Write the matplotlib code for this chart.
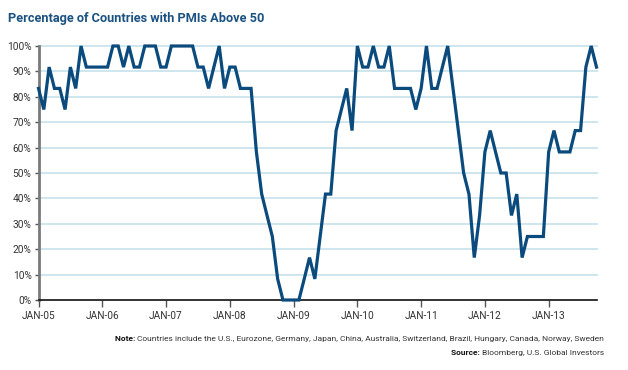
import matplotlib
matplotlib.use("Agg")
import matplotlib.pyplot as plt

# monthly share of the 12 countries with PMI above 50, Jan 2005 - Oct 2013
pct_2005 = [83.3, 75.0, 91.7, 83.3, 83.3, 75.0, 91.7, 83.3, 100, 91.7, 91.7, 91.7]
pct_2006 = [91.7, 91.7, 100, 100, 91.7, 100, 91.7, 91.7, 100, 100, 100, 91.7]
pct_2007 = [91.7, 100, 100, 100, 100, 100, 91.7, 91.7, 83.3, 91.7, 100, 83.3]
pct_2008 = [91.7, 91.7, 83.3, 83.3, 83.3, 58.3, 41.7, 33.3, 25.0, 8.3, 0, 0]
pct_2009 = [0, 0, 8.3, 16.7, 8.3, 25.0, 41.7, 41.7, 66.7, 75.0, 83.3, 66.7]
pct_2010 = [100, 91.7, 91.7, 100, 91.7, 91.7, 100, 83.3, 83.3, 83.3, 83.3, 75.0]
pct_2011 = [83.3, 100, 83.3, 83.3, 91.7, 100, 83.3, 66.7, 50.0, 41.7, 16.7, 33.3]
pct_2012 = [58.3, 66.7, 58.3, 50.0, 50.0, 33.3, 41.7, 16.7, 25.0, 25.0, 25.0, 25.0]
pct_2013 = [58.3, 66.7, 58.3, 58.3, 58.3, 66.7, 66.7, 91.7, 100, 91.7]

values = (pct_2005 + pct_2006 + pct_2007 + pct_2008 + pct_2009 +
          pct_2010 + pct_2011 + pct_2012 + pct_2013)
months = list(range(len(values)))

year_labels = ["JAN-05", "JAN-06", "JAN-07", "JAN-08", "JAN-09",
               "JAN-10", "JAN-11", "JAN-12", "JAN-13"]
year_ticks = [12 * i for i in range(len(year_labels))]
y_ticks = list(range(0, 101, 10))

title = "Percentage of Countries with PMIs Above 50"
note_bold = "Note: "
note_text = ("Countries include the U.S., Eurozone, Germany, Japan, China, Australia, "
             "Switzerland, Brazil, Hungary, Canada, Norway, Sweden")
source_bold = "Source: "
source_text = "Bloomberg, U.S. Global Investors"

plt.rcParams["font.family"] = ["Roboto", "DejaVu Sans"]

line_color = "#0a4a7c"
grid_color = "#cfe6ee"
title_color = "#1b5282"

fig = plt.figure(figsize=(6.28, 3.70), dpi=100)
ax = fig.add_axes([38.5 / 628, 70 / 370, 558 / 628, 254 / 370])

ax.plot(months, values, color=line_color, linewidth=2.3, clip_on=False,
        solid_joinstyle="miter", zorder=3)

ax.set_xlim(0, 105)
ax.set_ylim(0, 100)
ax.set_yticks(y_ticks)
ax.set_yticklabels([f"{v}%" for v in y_ticks])
ax.set_xticks(year_ticks)
ax.set_xticklabels(year_labels)

for v in y_ticks[1:]:
    ax.axhline(v, color=grid_color, linewidth=1.4, zorder=1, clip_on=False)

for s in ["top", "right"]:
    ax.spines[s].set_visible(False)
ax.spines["left"].set_color("#7a7a7a")
ax.spines["left"].set_linewidth(2.0)
ax.spines["bottom"].set_color("#111111")
ax.spines["bottom"].set_linewidth(1.2)

ax.tick_params(axis="y", length=3, width=1, color="#555555", pad=2,
               labelsize=7.3, labelcolor="#333333")
ax.tick_params(axis="x", length=5, width=1, color="#555555", pad=3,
               labelsize=7.3, labelcolor="#333333")

fig.canvas.draw()
renderer = fig.canvas.get_renderer()

# title, sized so it spans roughly the same width as the reference
tt = fig.text(8 / 628, 1 - 22 / 370, title, fontsize=10, fontweight="bold",
              color=title_color, ha="left", va="baseline")
w = tt.get_window_extent(renderer=renderer).width
tt.set_fontsize(10 * 258 / w)

# note and source lines, bold lead word then regular text, right aligned
note_size = 7.0
t = fig.text(0, 0, note_bold + note_text, fontsize=note_size)
w = t.get_window_extent(renderer=renderer).width
t.remove()
note_size = note_size * 490 / w

for y_px, bold, rest in [(341, note_bold, note_text), (355, source_bold, source_text)]:
    y = 1 - y_px / 370
    t = fig.text(604 / 628, y, rest, fontsize=note_size, color="#333333",
                 ha="right", va="baseline")
    bb = t.get_window_extent(renderer=renderer)
    fig.text(bb.x0 / fig.bbox.width, y, bold, fontsize=note_size, fontweight="bold",
             color="#111111", ha="right", va="baseline")

fig.savefig("out.png", dpi=100)
